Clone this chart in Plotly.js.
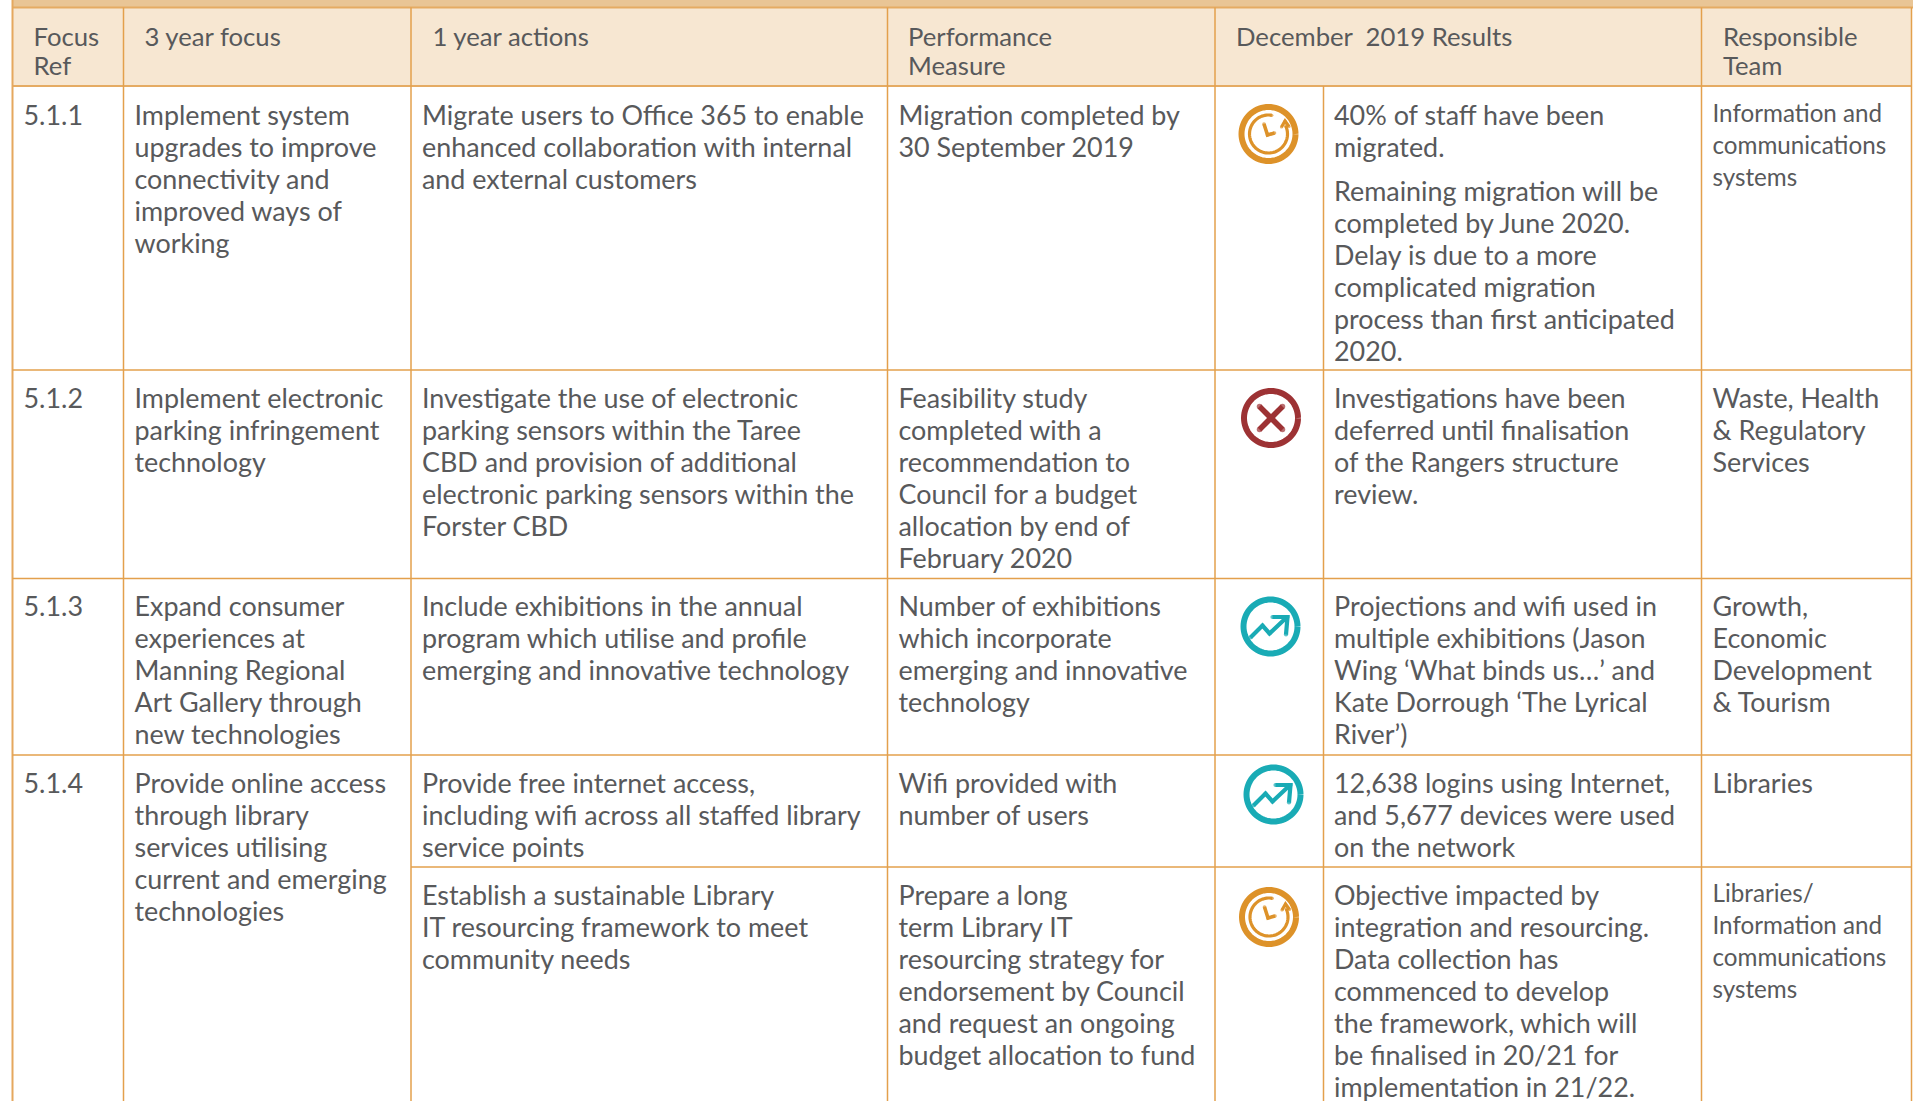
<!DOCTYPE html>
<html><head><meta charset="utf-8">
<script src="https://cdn.plot.ly/plotly-3.0.1.min.js"></script>
<style>html,body{margin:0;padding:0;background:#fff}#chart{width:1913px;height:1101px}</style>
</head><body><div id="chart"></div>
<script>
// ---- table content ----
const headerRef = ["Focus", "Ref"];
const headerFocus = ["3 year focus"];
const headerActions = ["1 year actions"];
const headerMeasure = ["Performance", "Measure"];
const headerResults = ["December  2019 Results"];
const headerTeam = ["Responsible", "Team"];

const refs = ["5.1.1", "5.1.2", "5.1.3", "5.1.4"];

const focus1 = ["Implement system", "upgrades to improve", "connectivity and", "improved ways of", "working"];
const focus2 = ["Implement electronic", "parking infringement", "technology"];
const focus3 = ["Expand consumer", "experiences at", "Manning Regional", "Art Gallery through", "new technologies"];
const focus4 = ["Provide online access", "through library", "services utilising", "current and emerging", "technologies"];

const actions1 = ["Migrate users to Office 365 to enable", "enhanced collaboration with internal", "and external customers"];
const actions2 = ["Investigate the use of electronic", "parking sensors within the Taree", "CBD and provision of additional", "electronic parking sensors within the", "Forster CBD"];
const actions3 = ["Include exhibitions in the annual", "program which utilise and profile", "emerging and innovative technology"];
const actions4 = ["Provide free internet access,", "including wifi across all staffed library", "service points"];
const actions5 = ["Establish a sustainable Library", "IT resourcing framework to meet", "community needs"];

const measure1 = ["Migration completed by", "30 September 2019"];
const measure2 = ["Feasibility study", "completed with a", "recommendation to", "Council for a budget", "allocation by end of", "February 2020"];
const measure3 = ["Number of exhibitions", "which incorporate", "emerging and innovative", "technology"];
const measure4 = ["Wifi provided with", "number of users"];
const measure5 = ["Prepare a long", "term Library IT", "resourcing strategy for", "endorsement by Council", "and request an ongoing", "budget allocation to fund"];

const results1a = ["40% of staff have been", "migrated."];
const results1b = ["Remaining migration will be", "completed by June 2020.", "Delay is due to a more", "complicated migration", "process than first anticipated", "2020."];
const results2 = ["Investigations have been", "deferred until finalisation", "of the Rangers structure", "review."];
const results3 = ["Projections and wifi used in", "multiple exhibitions (Jason", "Wing ‘What binds us…’ and", "Kate Dorrough ‘The Lyrical", "River’)"];
const results4 = ["12,638 logins using Internet,", "and 5,677 devices were used", "on the network"];
const results5 = ["Objective impacted by", "integration and resourcing.", "Data collection has", "commenced to develop", "the framework, which will", "be finalised in 20/21 for", "implementation in 21/22."];

const team1 = ["Information and", "communications", "systems"];
const team2 = ["Waste, Health", "& Regulatory", "Services"];
const team3 = ["Growth,", "Economic", "Development", "& Tourism"];
const team4 = ["Libraries"];
const team5 = ["Libraries/", "Information and", "communications", "systems"];

const statusKinds = ["delayed", "stopped", "onTrack", "onTrack", "delayed"];

// ---- page geometry ----
const W = 1913, H = 1101;
const colEdges = [12.5, 123.5, 411, 887.5, 1215, 1323.5, 1701.5, 1911.5];
const rowEdges = [7.5, 86, 370, 578.5, 755, 867];
const rowTop = [118.5, 401.5, 609, 786.5, 898.5];
const smallTop = [115.5, 896];
const LH = 32;
const colText = {ref: 23.5, focus: 134.5, actions: 422, measure: 898.5, results: 1334, team: 1712.5};
const headX = {ref: 33.5, focus: 144.5, actions: 432.5, measure: 908, results: 1236, team: 1723};
const iconCentres = [[1268.5,134],[1271,418],[1270.5,626.5],[1273.5,794.5],[1269,917]];
const iconColours = {delayed:"#dd9229", stopped:"#9d3234", onTrack:"#19abb5"};
const ruleColour = "#e3a04c", textColour = "#58595b";

// ---- text placement ----
function block(store, lines, x, top, lh){ lines.forEach((t,i)=>{store.x.push(x);store.y.push(top+i*lh);store.text.push(t);}); }
const head = {x:[],y:[],text:[]}, body = {x:[],y:[],text:[]}, small = {x:[],y:[],text:[]};
[[headerRef,"ref"],[headerFocus,"focus"],[headerActions,"actions"],[headerMeasure,"measure"],[headerResults,"results"],[headerTeam,"team"]]
  .forEach(([l,c])=>block(head,l,headX[c],39.5,29));
refs.forEach((r,i)=>block(body,[r],colText.ref,rowTop[i],LH));
[focus1,focus2,focus3,focus4].forEach((l,i)=>block(body,l,colText.focus,rowTop[i],LH));
[actions1,actions2,actions3,actions4,actions5].forEach((l,i)=>block(body,l,colText.actions,rowTop[i],LH));
[measure1,measure2,measure3,measure4,measure5].forEach((l,i)=>block(body,l,colText.measure,rowTop[i],LH));
block(body,results1a,colText.results,rowTop[0],LH);
block(body,results1b,colText.results,194,LH);
[results2,results3,results4,results5].forEach((l,i)=>block(body,l,colText.results,rowTop[i+1],LH));
[team2,team3,team4].forEach((l,i)=>block(body,l,colText.team,rowTop[i+1],LH));
block(small,team1,colText.team,smallTop[0],LH);
block(small,team5,colText.team,smallTop[1],LH);

function textTrace(s,size,family){
  return {type:"scatter",mode:"text",x:s.x,y:s.y,text:s.text,textposition:"middle right",cliponaxis:false,
    hoverinfo:"skip",showlegend:false,textfont:{family:family,size:size,color:textColour}};
}

// ---- status icons ----
function stroke(c,pts,colour,width,closed){
  const n=pts.length;
  const t={type:"scatter",mode:closed?"lines":"lines+markers",x:pts.map(p=>c[0]+p[0]),y:pts.map(p=>c[1]+p[1]),
    line:{color:colour,width:width,simplify:false},hoverinfo:"skip",showlegend:false,cliponaxis:false};
  if(!closed) t.marker={color:colour,line:{width:0},size:pts.map((p,i)=>(i===0||i===n-1||n<6)?width:0)};
  return t;
}
function arc(r,a0,a1){ const p=[]; const n=72; for(let i=0;i<=n;i++){const a=(a0+(a1-a0)*i/n)*Math.PI/180;p.push([r*Math.cos(a),r*Math.sin(a)]);} return p; }
function icon(c,kind){
  const col=iconColours[kind]; const out=[stroke(c,arc(27,0,360),col,6,true)];
  if(kind==="delayed"){
    out.push(stroke(c,arc(19,-80,-385),col,3.2));
    out.push(stroke(c,[[13,-7],[16.5,-13],[20.5,-7.5]],col,3.2));
    out.push(stroke(c,[[-4.5,-10],[-1,1],[6,-1]],col,3.6));
  } else if(kind==="stopped"){
    out.push(stroke(c,[[-11.5,-11.5],[11.5,11.5]],col,5.5));
    out.push(stroke(c,[[-11.5,11.5],[11.5,-11.5]],col,5.5));
  } else {
    out.push(stroke(c,[[-20,11],[-8,-1],[-1,7],[16,-9]],col,4.2));
    out.push(stroke(c,[[2,-9.5],[17,-9.5],[15.5,8]],col,4.2));
  }
  return out;
}
const iconTraces = statusKinds.flatMap((k,i)=>icon(iconCentres[i],k));

// ---- rules and fills ----
const rule=(x0,y0,x1,y1,w,c)=>({type:"line",xref:"x",yref:"y",x0,y0,x1,y1,line:{color:c||ruleColour,width:w||1.5},layer:"below"});
const shapes=[
  {type:"rect",xref:"x",yref:"y",x0:colEdges[0],x1:W,y0:0,y1:rowEdges[0],fillcolor:"#e9c595",line:{width:0},layer:"below"},
  {type:"rect",xref:"x",yref:"y",x0:colEdges[0],x1:colEdges[7],y0:rowEdges[0],y1:rowEdges[1],fillcolor:"#f7e7d2",line:{width:0},layer:"below"},
  rule(colEdges[0],rowEdges[0],W,rowEdges[0],2,"#e5ab63"),
  rule(colEdges[0],rowEdges[1],colEdges[7],rowEdges[1],2,"#e5ab63"),
  rule(colEdges[0],0,colEdges[0],H,2,"#e5a85e")
];
[1,2,3,4,6,7].forEach(i=>shapes.push(rule(colEdges[i],rowEdges[0],colEdges[i],H,1.5)));
shapes.push(rule(colEdges[5],rowEdges[1],colEdges[5],H,1.5));
[2,3,4].forEach(i=>shapes.push(rule(colEdges[0],rowEdges[i],colEdges[7],rowEdges[i],1.5)));
shapes.push(rule(colEdges[2],rowEdges[5],colEdges[7],rowEdges[5],1.5));

const traces=[textTrace(head,25.7,"Lato"),textTrace(body,26.9,"Lato"),textTrace(small,24.2,"Lato")].concat(iconTraces);

Plotly.newPlot("chart",traces,{
  width:W,height:H,margin:{l:0,r:0,t:0,b:0},paper_bgcolor:"#fff",plot_bgcolor:"#fff",showlegend:false,
  xaxis:{range:[0,W],visible:false,fixedrange:true},
  yaxis:{range:[H,0],visible:false,fixedrange:true},
  shapes:shapes
},{displayModeBar:false,staticPlot:true});
</script></body></html>
